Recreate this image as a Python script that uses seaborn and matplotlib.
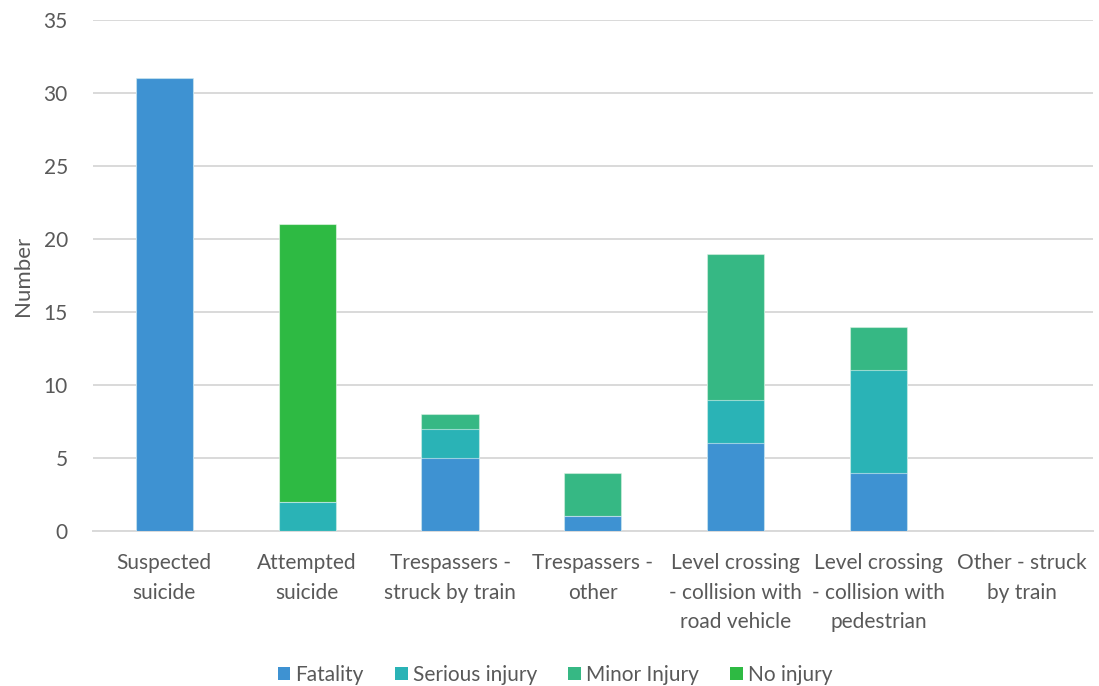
import numpy as np
import pandas as pd
import matplotlib
matplotlib.use("Agg")
import matplotlib.pyplot as plt
import seaborn as sns
from matplotlib.patches import Patch

categories = [
    "Suspected\nsuicide",
    "Attempted\nsuicide",
    "Trespassers -\nstruck by train",
    "Trespassers -\nother",
    "Level crossing\n- collision with\nroad vehicle",
    "Level crossing\n- collision with\npedestrian",
    "Other - struck\nby train",
]
fatality = [31, 0, 5, 1, 6, 4, 0]
serious_injury = [0, 2, 2, 0, 3, 7, 0]
minor_injury = [0, 0, 1, 3, 10, 3, 0]
no_injury = [0, 19, 0, 0, 0, 0, 0]

series_names = ["Fatality", "Serious injury", "Minor Injury", "No injury"]
series_colors = ["#3E92D2", "#2AB3B6", "#36B884", "#2EBA43"]
yticks = [0, 5, 10, 15, 20, 25, 30, 35]

sns.set_theme(style="white")
plt.rcParams["font.family"] = ["Lato", "DejaVu Sans"]
text_color = "#595959"
fs = 15

fig = plt.figure(figsize=(10.99, 6.86), dpi=100)
ax = fig.add_axes([0.0845, 0.226, 0.910, 0.745])

layers = np.array([fatality, serious_injury, minor_injury, no_injury], dtype=float)
cum = np.cumsum(layers, axis=0)

# Stack by painting cumulative totals from the top layer downwards
for i in range(len(series_names) - 1, -1, -1):
    df = pd.DataFrame({"category": categories, "value": cum[i]})
    sns.barplot(data=df, x="category", y="value", color=series_colors[i],
                saturation=1, width=0.4, ax=ax, edgecolor="#FFFFFF80",
                linewidth=0.8, zorder=3)

ax.set_ylim(0, 35)
ax.set_xlim(-0.5, len(categories) - 0.5)
ax.set_yticks(yticks)
ax.set_yticklabels([str(t) for t in yticks])
ax.yaxis.grid(True, color="#D9D9D9", linewidth=1.4, zorder=0)
ax.set_axisbelow(True)
for s in ["top", "right", "left"]:
    ax.spines[s].set_visible(False)
ax.spines["bottom"].set_color("#D9D9D9")
ax.spines["bottom"].set_linewidth(1.4)
ax.tick_params(axis="both", length=0, labelsize=fs, colors=text_color)
ax.tick_params(axis="x", pad=16)
ax.tick_params(axis="y", pad=18)
for lbl in ax.get_xticklabels():
    lbl.set_linespacing(1.6)
ax.set_xlabel("")
ax.set_ylabel("Number", fontsize=fs + 1, color=text_color, labelpad=8)

handles = [Patch(facecolor=c, edgecolor="none") for c in series_colors]
fig.legend(handles, series_names, loc="center", bbox_to_anchor=(0.505, 0.016),
           ncol=4, frameon=False, fontsize=fs, labelcolor=text_color,
           handlelength=0.6, handleheight=0.6, handletextpad=0.25,
           columnspacing=1.5)

fig.savefig("out.png", dpi=100, facecolor="white")
